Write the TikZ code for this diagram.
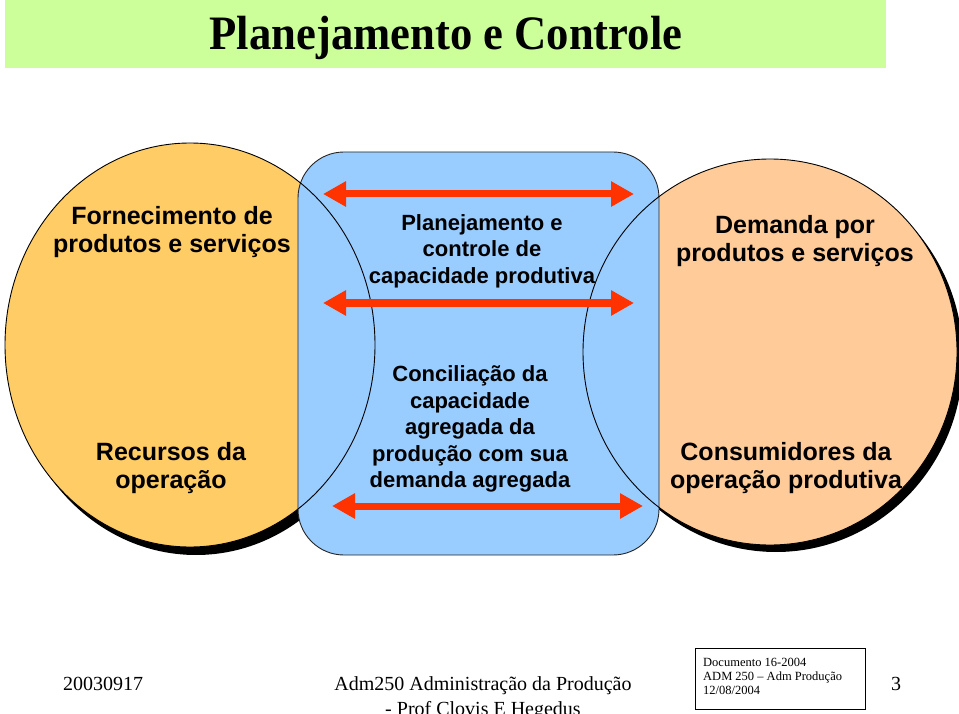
\documentclass[tikz,border=0pt]{standalone}
\usepackage{fontspec}
\setmainfont{Liberation Serif}
\newfontfamily\arialf{Liberation Sans}
\usetikzlibrary{arrows.meta}
\definecolor{titlegreen}{HTML}{CCFF99}
\definecolor{leftorange}{HTML}{FFCC66}
\definecolor{boxblue}{HTML}{99CCFF}
\definecolor{rightpeach}{HTML}{FFCC99}
\definecolor{arrowred}{HTML}{FF3300}
\tikzset{
  bigarrow/.style={draw=arrowred, line width=7pt,
    {Triangle[length=23pt,width=24pt]}-{Triangle[length=23pt,width=24pt]}},
  sidetext/.style={font=\arialf\bfseries\fontsize{25}{28.5}\selectfont, align=center, inner sep=0pt},
  midtext/.style={font=\arialf\bfseries\fontsize{22}{26.5}\selectfont, align=center, inner sep=0pt},
  foot/.style={font=\fontsize{20}{23}\selectfont, inner sep=0pt, anchor=base},
  shadowfill/.style={fill=black},
  outline/.style={draw=black, line width=0.9pt}
}
\begin{document}
\begin{tikzpicture}[x=1pt,y=-1pt]
\useasboundingbox (0,0) rectangle (959,714);
\fill[white] (0,0) rectangle (959,714);
% title
\fill[titlegreen] (5,0) rectangle (886,68);
\node[font=\bfseries\fontsize{48}{56}\selectfont, xscale=0.93, anchor=base, inner sep=0pt] (title) at (446,50) {Planejamento e Controle};
% shadows and fills
\fill[shadowfill] (196,353) ellipse [x radius=185, y radius=202];
\fill[leftorange] (190,345) ellipse [x radius=185, y radius=202];
\fill[shadowfill] (776,359) ellipse [x radius=187, y radius=193];
\fill[rightpeach] (770,352) ellipse [x radius=187, y radius=193];
% central box
\draw[fill=boxblue, draw=black!85, line width=0.9pt, rounded corners=46pt] (298,152) rectangle (659,555);
% ellipse outlines on top
\draw[outline] (190,345) ellipse [x radius=185, y radius=202];
\draw[outline] (770,352) ellipse [x radius=187, y radius=193];
% arrows
\coordinate (a1l) at (323,194); \coordinate (a1r) at (634,194);
\coordinate (a2l) at (323,303); \coordinate (a2r) at (634,303);
\coordinate (a3l) at (332,506); \coordinate (a3r) at (643,506);
\draw[bigarrow] (a1l) -- (a1r);
\draw[bigarrow] (a2l) -- (a2r);
\draw[bigarrow] (a3l) -- (a3r);
% texts
\node[sidetext] (t1) at (172,232) {Fornecimento de\\produtos e serviços};
\node[midtext] (t2) at (482,251) {Planejamento e\\controle de\\capacidade produtiva};
\node[sidetext] (t3) at (795,241) {Demanda por\\produtos e serviços};
\node[sidetext] (t4) at (171,468) {Recursos da\\operação};
\node[midtext] (t5) at (470,429) {Conciliação da\\capacidade\\agregada da\\produção com sua\\demanda agregada};
\node[sidetext] (t6) at (786,468) {Consumidores da\\operação produtiva};
% footer
\node[foot] (f1) at (103,690) {20030917};
\node[foot] (f2) at (483,690) {Adm250 Administração da Produção};
\node[foot] (f3) at (483,715) {- Prof Clovis E Hegedus};
\draw[black, line width=0.8pt] (695,648) rectangle (865,709);
\node[font=\fontsize{12.5}{14}\selectfont, align=left, anchor=north west, inner sep=0pt] (doc) at (703,658) {Documento 16-2004\\ADM 250 -- Adm Produção\\12/08/2004};
\node[foot] (pg) at (896,690) {3};
\end{tikzpicture}
\end{document}
